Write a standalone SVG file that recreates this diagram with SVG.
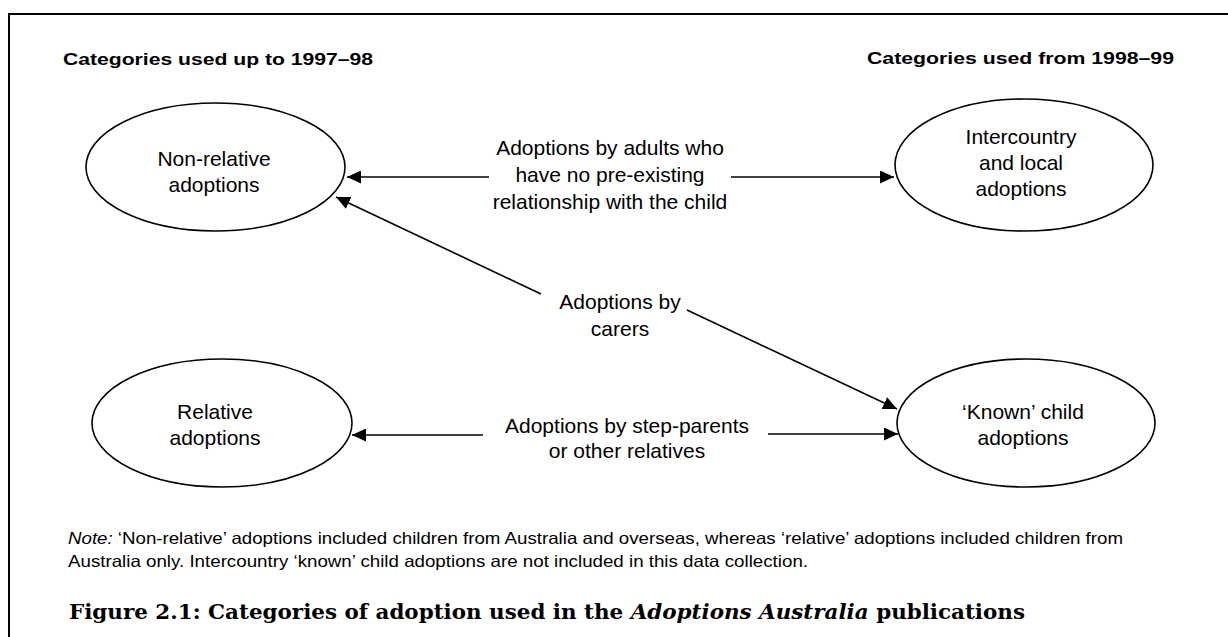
<svg xmlns="http://www.w3.org/2000/svg" width="1228" height="637" viewBox="0 0 1228 637">
<style>
.frame{fill:none;stroke:#000;stroke-width:2}
.node{fill:#fff;stroke:#000;stroke-width:1.6}
.conn{fill:none;stroke:#000;stroke-width:1.6}
.lbl{font-family:"Liberation Sans",Arial,sans-serif;font-size:21px;fill:#000;text-anchor:middle}
.ttl{font-family:"Liberation Sans",Arial,sans-serif;font-size:17px;font-weight:bold;fill:#000}
.note{font-family:"Liberation Sans",Arial,sans-serif;font-size:16.5px;fill:#000}
.cap{font-family:"DejaVu Serif","Liberation Serif",serif;font-size:19.5px;font-weight:bold;fill:#000}
</style>
<defs>
<marker id="ah" markerUnits="userSpaceOnUse" markerWidth="15" markerHeight="13" refX="14" refY="6.5" orient="auto">
<path d="M0,0 L14,6.5 L0,13 z" fill="#000"/>
</marker>
</defs>
<rect width="1228" height="637" fill="#fff"/>
<path class="frame" d="M9,637 L9,14 L1228,14"/>
<text class="ttl" x="63" y="65" textLength="310" lengthAdjust="spacingAndGlyphs">Categories used up to 1997–98</text>
<text class="ttl" x="1174" y="64" text-anchor="end" textLength="307" lengthAdjust="spacingAndGlyphs">Categories used from 1998–99</text>
<g id="n1">
<ellipse class="node" cx="215.5" cy="167" rx="129.5" ry="64"/>
<text class="lbl" x="214" y="166">Non-relative</text>
<text class="lbl" x="214" y="192">adoptions</text>
</g>
<g id="n2">
<ellipse class="node" cx="1024" cy="165" rx="129" ry="66"/>
<text class="lbl" x="1021" y="144">Intercountry</text>
<text class="lbl" x="1021" y="170">and local</text>
<text class="lbl" x="1021" y="196">adoptions</text>
</g>
<g id="n3">
<ellipse class="node" cx="222" cy="423" rx="130" ry="64"/>
<text class="lbl" x="215" y="419">Relative</text>
<text class="lbl" x="215" y="445">adoptions</text>
</g>
<g id="n4">
<ellipse class="node" cx="1026" cy="423" rx="129" ry="64"/>
<text class="lbl" x="1023" y="419">‘Known’ child</text>
<text class="lbl" x="1023" y="445">adoptions</text>
</g>
<g id="connectors">
<line class="conn" x1="489" y1="177" x2="347" y2="177" marker-end="url(#ah)"/>
<line class="conn" x1="731" y1="177" x2="894" y2="177" marker-end="url(#ah)"/>
<line class="conn" x1="541" y1="294" x2="336" y2="197" marker-end="url(#ah)"/>
<line class="conn" x1="687" y1="310" x2="897" y2="409" marker-end="url(#ah)"/>
<line class="conn" x1="483" y1="435" x2="352" y2="435" marker-end="url(#ah)"/>
<line class="conn" x1="768" y1="434" x2="898" y2="434" marker-end="url(#ah)"/>
<text class="lbl" x="610" y="155">Adoptions by adults who</text>
<text class="lbl" x="610" y="182">have no pre-existing</text>
<text class="lbl" x="610" y="209">relationship with the child</text>
<text class="lbl" x="620" y="309">Adoptions by</text>
<text class="lbl" x="620" y="336">carers</text>
<text class="lbl" x="627" y="433">Adoptions by step-parents</text>
<text class="lbl" x="627" y="458">or other relatives</text>
</g>
<text class="note" x="68" y="544" textLength="1055" lengthAdjust="spacingAndGlyphs"><tspan font-style="italic">Note:</tspan> ‘Non-relative’ adoptions included children from Australia and overseas, whereas ‘relative’ adoptions included children from</text>
<text class="note" x="68" y="567" textLength="740" lengthAdjust="spacingAndGlyphs">Australia only. Intercountry ‘known’ child adoptions are not included in this data collection.</text>
<text class="cap" x="69" y="619" textLength="956" lengthAdjust="spacingAndGlyphs">Figure 2.1: Categories of adoption used in the <tspan font-style="italic">Adoptions Australia</tspan> publications</text>
</svg>
